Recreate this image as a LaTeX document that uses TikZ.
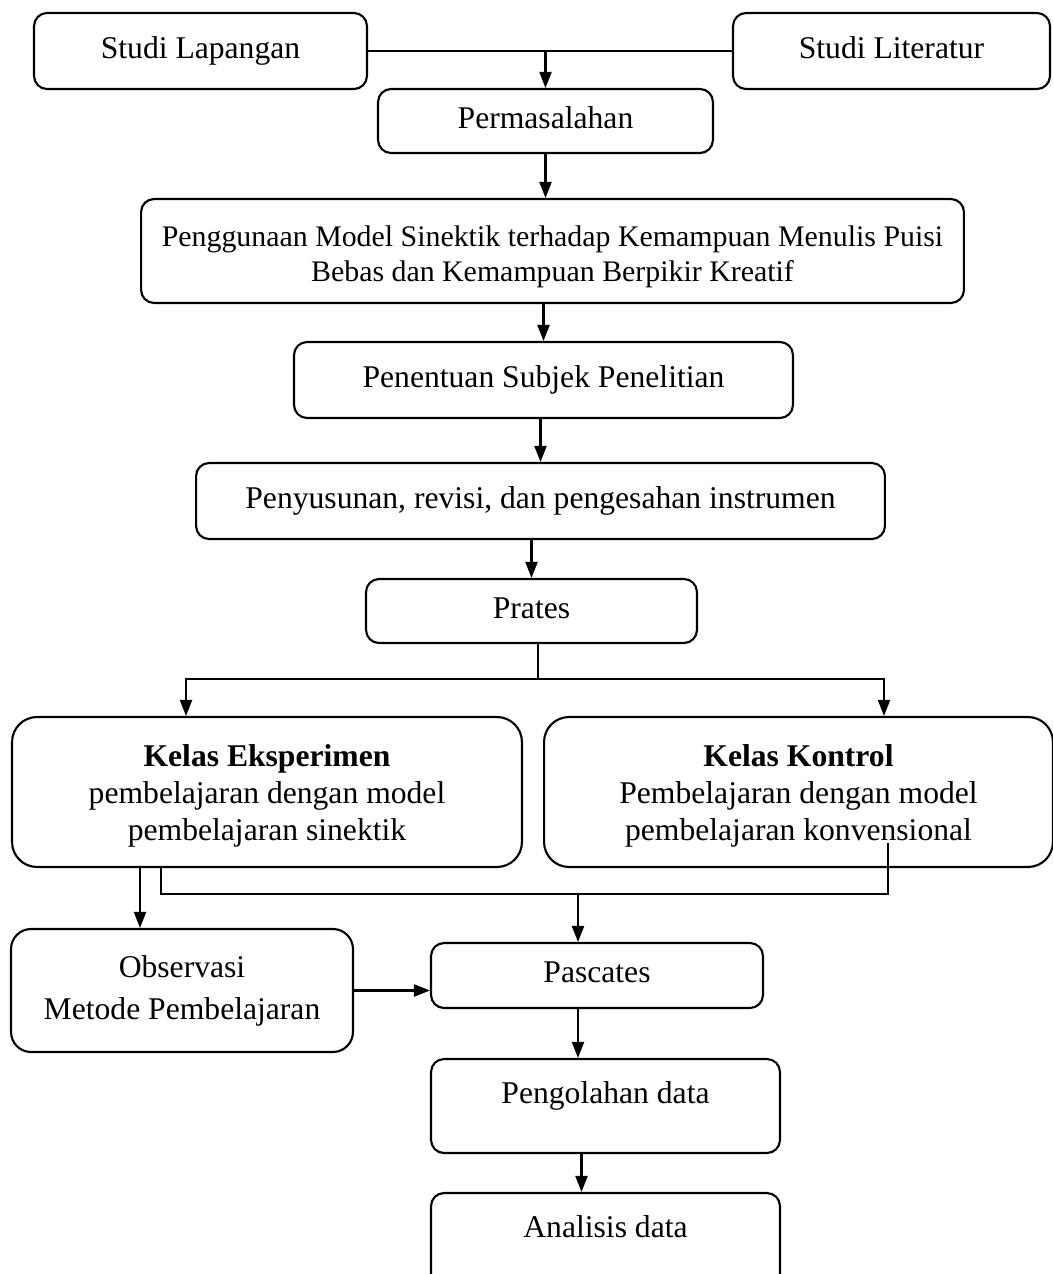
\documentclass[tikz,border=0pt]{standalone}
\usepackage{fontspec}
\setmainfont{Liberation Serif}
\usetikzlibrary{arrows.meta}

\begin{document}
\begin{tikzpicture}[x=0.02cm,y=-0.02cm,line width=1.2pt,->,>={Triangle[length=0.32cm,width=0.24cm]},
	box/.style={draw,rounded corners=0.26cm,align=center,inner sep=0pt,font=\fontsize{18}{22}\selectfont},
	one line/.style={box,text height=13pt,text depth=5pt},
	low text/.style={one line,text depth=16pt},
	kelas box/.style={box,rounded corners=0.5cm,font=\fontsize{18}{21}\selectfont}]

	\useasboundingbox (0,0) rectangle (1053,1274);
	\clip (0,0) rectangle (1053,1274);

	% boxes
	\node[one line,minimum width=6.66cm,minimum height=1.52cm] (lapangan) at (200.5,51) {Studi Lapangan};
	\node[one line,minimum width=6.34cm,minimum height=1.52cm] (literatur) at (891.5,51) {Studi Literatur};
	\node[one line,minimum width=6.70cm,minimum height=1.28cm] (permasalahan) at (545.5,121) {Permasalahan};
	\node[box,minimum width=16.46cm,minimum height=2.08cm,font=\fontsize{17}{20}\selectfont] (penggunaan) at (552.5,251)
		{\rule{0pt}{0.65cm}Penggunaan Model Sinektik terhadap Kemampuan Menulis Puisi\\ Bebas dan Kemampuan Berpikir Kreatif};
	\node[one line,minimum width=9.98cm,minimum height=1.52cm] (penentuan) at (543.5,380) {Penentuan Subjek Penelitian};
	\node[one line,minimum width=13.78cm,minimum height=1.52cm] (penyusunan) at (540.5,501) {Penyusunan, revisi, dan pengesahan instrumen};
	\node[one line,minimum width=6.62cm,minimum height=1.28cm] (prates) at (531.5,611) {Prates};
	\node[kelas box,minimum width=10.20cm,minimum height=3cm] (eksperimen) at (267,792)
		{\rule{0pt}{0.6cm}\textbf{Kelas Eksperimen}\\ pembelajaran dengan model\\ pembelajaran sinektik};
	\node[kelas box,minimum width=10.18cm,minimum height=3cm] (kontrol) at (798.5,792)
		{\rule{0pt}{0.6cm}\textbf{Kelas Kontrol}\\ Pembelajaran dengan model\\ pembelajaran konvensional};
	\node[box,rounded corners=0.4cm,minimum width=6.84cm,minimum height=2.46cm,font=\fontsize{18}{24}\selectfont] (observasi) at (182,990.5)
		{Observasi\\ Metode Pembelajaran};
	\node[one line,minimum width=6.64cm,minimum height=1.30cm] (pascates) at (597,975.5) {Pascates};
	\node[low text,minimum width=6.98cm,minimum height=1.88cm] (pengolahan) at (605.5,1106) {Pengolahan data};
	\node[low text,minimum width=6.98cm,minimum height=1.88cm] (analisis) at (605.5,1240) {Analisis data};

	% junctions
	\coordinate (split) at (538,679);
	\coordinate (toEks) at (186,679);
	\coordinate (toKon) at (884,679);
	\coordinate (eksA) at (140,900);
	\coordinate (eksB) at (161,894);
	\coordinate (konEnd) at (888,843);
	\coordinate (merge) at (578,894);

	% connectors
	\draw[-] (lapangan.east) -- (literatur.west);
	\draw (permasalahan.north |- lapangan.east) -- (permasalahan.north);
	\draw (permasalahan.south) -- (permasalahan.south |- penggunaan.north);
	\foreach \source/\dest in {penggunaan/penentuan, penentuan/penyusunan, penyusunan/prates}
		\draw (\source.south -| \dest.north) -- (\dest.north);
	\draw[-] (split |- prates.south) -- (split);
	\draw (split) -- (toEks) -- (toEks |- eksperimen.north);
	\draw (split) -- (toKon) -- (toKon |- kontrol.north);
	\draw (eksperimen.south -| eksA) -- (eksA |- observasi.north);
	\draw[-] (konEnd) |- (eksB) -- (eksB |- eksperimen.south);
	\draw (merge) -- (merge |- pascates.north);
	\draw (observasi.east) -- (observasi.east -| pascates.west);
	\draw (pascates.south -| merge) -- (merge |- pengolahan.north);
	\draw ([xshift=2pt]pengolahan.south -| merge) -- ([xshift=2pt]merge |- analisis.north);
\end{tikzpicture}
\end{document}
